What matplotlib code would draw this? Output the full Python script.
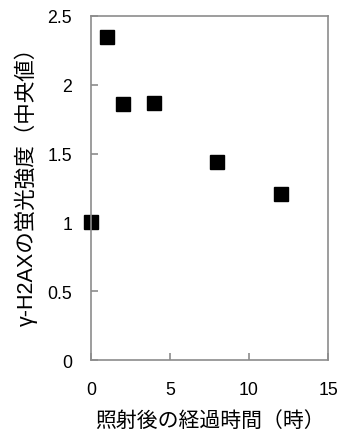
import matplotlib
matplotlib.use("Agg")
import matplotlib.pyplot as plt

hours = [0, 1, 2, 4, 8, 12]
intensity = [1.00, 2.35, 1.86, 1.87, 1.44, 1.21]
xticks = [0, 5, 10, 15]
yticks = [0, 0.5, 1, 1.5, 2, 2.5]
ytick_labels = ["0", "0.5", "1", "1.5", "2", "2.5"]

plt.rcParams['font.family'] = ['Liberation Sans', 'Noto Sans CJK JP', 'DejaVu Sans']

fig = plt.figure(figsize=(3.38, 4.31), dpi=100)
ax = fig.add_axes([91/338, 1-361/431, (328-91)/338, (361-17)/431])
ax.plot(hours, intensity, linestyle='none', marker='s', markersize=9.5,
        color='black', clip_on=False)
ax.set_xlim(0, 15)
ax.set_ylim(0, 2.5)
ax.set_xticks(xticks)
ax.set_yticks(yticks)
ax.set_yticklabels(ytick_labels)
for s in ax.spines.values():
    s.set_color('#8c8c8c')
    s.set_linewidth(1.2)
ax.tick_params(direction='in', length=5, color='#8c8c8c', width=1.2,
               labelsize=12.8)
ax.tick_params(axis='y', pad=13.5)
ax.tick_params(axis='x', pad=15)
ax.set_xlabel('照射後の経過時間（時）', fontsize=15,
              family=['Noto Sans CJK JP', 'DejaVu Sans'])
ax.xaxis.set_label_coords(0.5, -0.141)
ax.set_ylabel('γ-H2AXの蛍光強度（中央値）', fontsize=15.5,
              family=['Liberation Sans', 'Noto Sans CJK JP', 'DejaVu Sans'])
ax.yaxis.set_label_coords(-0.224, 0.523)
fig.savefig('out.png', dpi=100)
